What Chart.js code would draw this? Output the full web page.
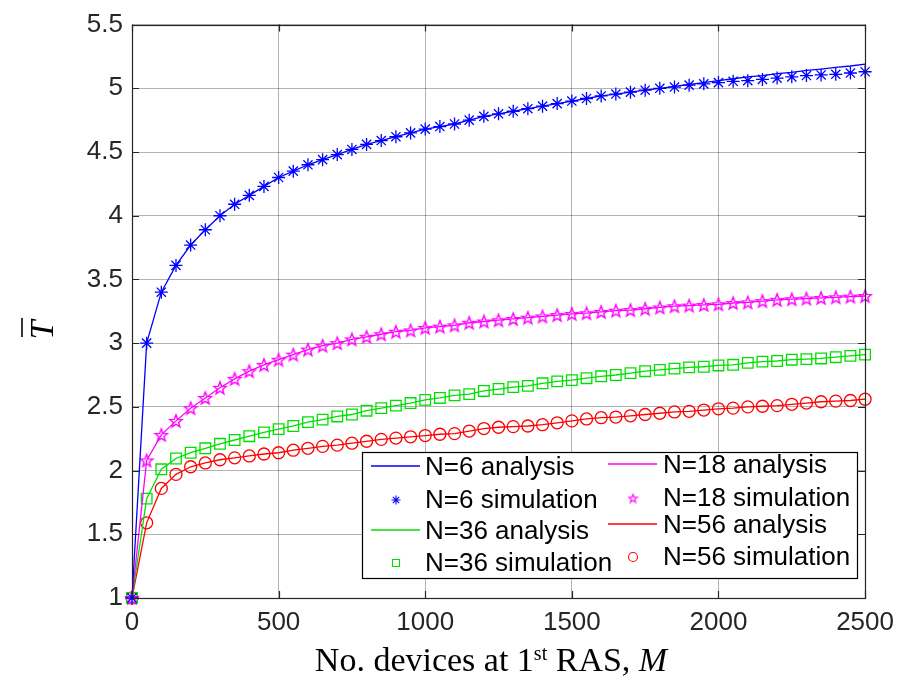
<!DOCTYPE html>
<html>
<head>
<meta charset="utf-8">
<script src="https://cdn.jsdelivr.net/npm/chart.js@4.4.1/dist/chart.umd.min.js"></script>
<style>
  html, body { margin: 0; padding: 0; background: #ffffff; }
  #wrap { width: 903px; height: 682px; }
</style>
</head>
<body>
<div id="wrap"><canvas id="c" width="903" height="682"></canvas></div>
<script>
const xValues = [0, 50, 100, 150, 200, 250, 300, 350, 400, 450, 500, 550, 600, 650, 700, 750, 800, 850, 900, 950,
  1000, 1050, 1100, 1150, 1200, 1250, 1300, 1350, 1400, 1450, 1500, 1550, 1600, 1650, 1700, 1750, 1800, 1850, 1900, 1950,
  2000, 2050, 2100, 2150, 2200, 2250, 2300, 2350, 2400, 2450, 2500];

const n6Simulation = [1.00, 3.00, 3.40, 3.61, 3.77, 3.89, 4.00, 4.09, 4.16, 4.23, 4.30, 4.35, 4.40, 4.44, 4.48, 4.52, 4.56, 4.59, 4.62, 4.65,
  4.68, 4.70, 4.72, 4.75, 4.78, 4.80, 4.82, 4.84, 4.86, 4.88, 4.90, 4.92, 4.94, 4.955, 4.97, 4.985, 5.00, 5.01, 5.025, 5.035,
  5.045, 5.055, 5.06, 5.07, 5.08, 5.09, 5.10, 5.105, 5.11, 5.12, 5.13];
const n6Analysis = [1.00, 3.00, 3.40, 3.61, 3.77, 3.89, 4.00, 4.09, 4.16, 4.23, 4.30, 4.35, 4.40, 4.44, 4.48, 4.52, 4.56, 4.59, 4.62, 4.65,
  4.68, 4.70, 4.72, 4.75, 4.78, 4.80, 4.82, 4.84, 4.86, 4.88, 4.90, 4.92, 4.94, 4.955, 4.97, 4.985, 5.00, 5.015, 5.03, 5.045,
  5.06, 5.075, 5.09, 5.10, 5.115, 5.125, 5.14, 5.15, 5.165, 5.175, 5.19];

const n18Simulation = [1.00, 2.08, 2.28, 2.39, 2.49, 2.57, 2.65, 2.72, 2.78, 2.83, 2.87, 2.91, 2.95, 2.98, 3.00, 3.03, 3.05, 3.07, 3.09, 3.10,
  3.12, 3.13, 3.14, 3.16, 3.17, 3.18, 3.19, 3.20, 3.21, 3.22, 3.23, 3.235, 3.245, 3.255, 3.26, 3.27, 3.28, 3.29, 3.295, 3.30,
  3.305, 3.315, 3.32, 3.33, 3.34, 3.345, 3.35, 3.355, 3.36, 3.365, 3.37];
const n18Analysis = [1.00, 2.08, 2.28, 2.39, 2.49, 2.57, 2.65, 2.72, 2.78, 2.83, 2.87, 2.91, 2.95, 2.98, 3.00, 3.03, 3.05, 3.07, 3.09, 3.10,
  3.12, 3.13, 3.14, 3.16, 3.17, 3.18, 3.19, 3.20, 3.21, 3.22, 3.23, 3.235, 3.245, 3.255, 3.26, 3.27, 3.28, 3.29, 3.295, 3.30,
  3.305, 3.315, 3.32, 3.33, 3.34, 3.345, 3.35, 3.355, 3.36, 3.365, 3.37];

const n36Simulation = [1.00, 1.78, 2.01, 2.095, 2.14, 2.175, 2.21, 2.24, 2.27, 2.30, 2.325, 2.35, 2.38, 2.40, 2.425, 2.44, 2.47, 2.49, 2.51, 2.53,
  2.555, 2.57, 2.59, 2.60, 2.625, 2.64, 2.655, 2.665, 2.685, 2.70, 2.71, 2.725, 2.74, 2.75, 2.765, 2.78, 2.79, 2.80, 2.81, 2.815,
  2.825, 2.83, 2.845, 2.855, 2.86, 2.87, 2.875, 2.88, 2.89, 2.90, 2.91];
const n36Analysis = [1.00, 1.78, 2.01, 2.095, 2.14, 2.175, 2.21, 2.24, 2.27, 2.30, 2.325, 2.35, 2.38, 2.40, 2.425, 2.44, 2.47, 2.49, 2.51, 2.53,
  2.555, 2.57, 2.59, 2.60, 2.625, 2.64, 2.655, 2.665, 2.685, 2.70, 2.71, 2.725, 2.74, 2.75, 2.765, 2.78, 2.79, 2.80, 2.81, 2.815,
  2.825, 2.83, 2.845, 2.855, 2.86, 2.87, 2.875, 2.88, 2.89, 2.90, 2.91];

const n56Simulation = [1.00, 1.59, 1.86, 1.97, 2.03, 2.06, 2.085, 2.10, 2.115, 2.13, 2.14, 2.16, 2.175, 2.19, 2.20, 2.215, 2.23, 2.245, 2.255, 2.265,
  2.275, 2.285, 2.29, 2.31, 2.33, 2.34, 2.345, 2.35, 2.36, 2.375, 2.39, 2.405, 2.415, 2.42, 2.43, 2.44, 2.45, 2.46, 2.465, 2.475,
  2.485, 2.49, 2.50, 2.505, 2.51, 2.52, 2.53, 2.54, 2.545, 2.55, 2.56];
const n56Analysis = [1.00, 1.59, 1.86, 1.97, 2.03, 2.06, 2.085, 2.10, 2.115, 2.13, 2.14, 2.16, 2.175, 2.19, 2.20, 2.215, 2.23, 2.245, 2.255, 2.265,
  2.275, 2.285, 2.29, 2.31, 2.33, 2.34, 2.345, 2.35, 2.36, 2.375, 2.39, 2.405, 2.415, 2.42, 2.43, 2.44, 2.45, 2.46, 2.465, 2.475,
  2.485, 2.49, 2.50, 2.505, 2.51, 2.52, 2.53, 2.54, 2.545, 2.55, 2.56];

const xTickValues = [0, 500, 1000, 1500, 2000, 2500];
const yTickLabels = ['1', '1.5', '2', '2.5', '3', '3.5', '4', '4.5', '5', '5.5'];

const seriesLabels = ['N=6 analysis', 'N=6 simulation', 'N=18 analysis', 'N=18 simulation',
                      'N=36 analysis', 'N=36 simulation', 'N=56 analysis', 'N=56 simulation'];
const xTitleParts = ['No. devices at 1', 'st', ' RAS, ', 'M'];
const yTitleText = 'T';

const BLUE = '#0000ff', MAG = '#ff00ff', GREEN = '#00e000', RED = '#ff0000';

function pentagram(size, color, lw) {
  const c = document.createElement('canvas');
  c.width = size; c.height = size;
  const g = c.getContext('2d');
  const cx = size / 2, cy = size / 2 + 0.6;
  const R = size / 2 - lw, r = R * 0.42;
  g.beginPath();
  for (let i = 0; i < 10; i++) {
    const rad = (i % 2 === 0) ? R : r;
    const a = -Math.PI / 2 + i * Math.PI / 5;
    const px = cx + rad * Math.cos(a), py = cy + rad * Math.sin(a);
    if (i === 0) g.moveTo(px, py); else g.lineTo(px, py);
  }
  g.closePath();
  g.strokeStyle = color; g.lineWidth = lw; g.stroke();
  return c;
}
const pentBig = pentagram(16, MAG, 1.4);
const pentSmall = pentagram(11, MAG, 1.1);

const pts = arr => xValues.map((x, i) => ({ x: x, y: arr[i] }));

function lineDs(label, arr, color) {
  return { label, data: pts(arr), borderColor: color, backgroundColor: color, borderWidth: 1.3,
           pointRadius: 0, showLine: true, tension: 0, clip: false };
}
function simDs(label, arr, color, style, radius) {
  return { label, data: pts(arr), borderColor: color, backgroundColor: 'rgba(0,0,0,0)', showLine: false,
           pointStyle: style, pointRadius: radius, pointBorderColor: color, pointBackgroundColor: 'rgba(0,0,0,0)',
           pointBorderWidth: 1.3, clip: false };
}

const datasets = [
  lineDs(seriesLabels[0], n6Analysis, BLUE),
  simDs(seriesLabels[1], n6Simulation, BLUE, 'star', 6.5),
  lineDs(seriesLabels[2], n18Analysis, MAG),
  simDs(seriesLabels[3], n18Simulation, MAG, pentBig, 7),
  lineDs(seriesLabels[4], n36Analysis, GREEN),
  simDs(seriesLabels[5], n36Simulation, GREEN, 'rect', 7.5),
  lineDs(seriesLabels[6], n56Analysis, RED),
  simDs(seriesLabels[7], n56Simulation, RED, 'circle', 6),
];

const LEG_FONT = '26px "Liberation Sans", Arial, sans-serif';

const decor = {
  id: 'decor',
  afterDraw(chart) {
    const ctx = chart.ctx, a = chart.chartArea;
    const xs = chart.scales.x, ys = chart.scales.y;
    ctx.save();
    // axes box
    ctx.strokeStyle = '#262626'; ctx.lineWidth = 1.2;
    ctx.strokeRect(Math.round(a.left) + 0.5, Math.round(a.top) + 0.5,
                   Math.round(a.right - a.left), Math.round(a.bottom - a.top));
    // inward ticks on all sides
    ctx.beginPath();
    const TL = 7;
    xTickValues.forEach(v => {
      const px = Math.round(xs.getPixelForValue(v)) + 0.5;
      ctx.moveTo(px, a.bottom); ctx.lineTo(px, a.bottom - TL);
      ctx.moveTo(px, a.top); ctx.lineTo(px, a.top + TL);
    });
    yTickLabels.forEach(t => {
      const py = Math.round(ys.getPixelForValue(parseFloat(t))) + 0.5;
      ctx.moveTo(a.left, py); ctx.lineTo(a.left + TL, py);
      ctx.moveTo(a.right, py); ctx.lineTo(a.right - TL, py);
    });
    ctx.stroke();

    // legend
    const L = { x: 362, y: 452, w: 495, h: 126 };
    ctx.fillStyle = '#ffffff';
    ctx.fillRect(L.x, L.y, L.w, L.h);
    ctx.strokeStyle = '#000000'; ctx.lineWidth = 1.2;
    ctx.strokeRect(L.x + 0.5, L.y + 0.5, L.w, L.h);
    const cols = [{ lx0: 371, lx1: 420, mx: 396, tx: 425, rows: [468, 501, 532, 564], ds: [0, 1, 4, 5] },
                  { lx0: 608, lx1: 657, mx: 633, tx: 663, rows: [466, 499, 526, 558], ds: [2, 3, 6, 7] }];
    ctx.textBaseline = 'middle'; ctx.textAlign = 'left';
    cols.forEach(col => {
      col.ds.forEach((di, k) => {
        const d = chart.data.datasets[di];
        const y = col.rows[k];
        if (d.showLine) {
          ctx.strokeStyle = d.borderColor; ctx.lineWidth = 1.3;
          ctx.beginPath(); ctx.moveTo(col.lx0, y - 2); ctx.lineTo(col.lx1, y - 2); ctx.stroke();
        } else {
          const st = d.pointStyle === pentBig ? pentSmall : d.pointStyle;
          const r = d.pointStyle === 'rect' ? 5 : 4.5;
          ctx.strokeStyle = d.pointBorderColor;
          ctx.fillStyle = 'rgba(0,0,0,0)';
          ctx.lineWidth = 1.1;
          Chart.helpers.drawPoint(ctx, { pointStyle: st, radius: r, borderWidth: 1.1, rotation: 0 }, col.mx, y - 1);
        }
        ctx.font = LEG_FONT;
        ctx.fillStyle = '#000000';
        ctx.fillText(d.label, col.tx, y);
      });
    });

    // x title with superscript and italic M
    const bigF = '34px "Liberation Serif", "Times New Roman", serif';
    const supF = '20px "Liberation Serif", "Times New Roman", serif';
    const itF = 'italic 34px "Liberation Serif", "Times New Roman", serif';
    const fonts = [bigF, supF, bigF, itF];
    const widths = xTitleParts.map((s, i) => { ctx.font = fonts[i]; return ctx.measureText(s).width; });
    const total = widths.reduce((p, q) => p + q, 0);
    let x = 491 - total / 2;
    ctx.fillStyle = '#000000'; ctx.textBaseline = 'alphabetic';
    xTitleParts.forEach((s, i) => {
      ctx.font = fonts[i];
      ctx.fillText(s, x, i === 1 ? 660 : 671);
      x += widths[i];
    });

    // y title: italic T with overbar, rotated
    ctx.translate(42, 330);
    ctx.rotate(-Math.PI / 2);
    ctx.font = itF; ctx.textAlign = 'center'; ctx.textBaseline = 'alphabetic';
    ctx.fillText(yTitleText, 0, 11);
    ctx.strokeStyle = '#000000'; ctx.lineWidth = 1.6;
    ctx.beginPath(); ctx.moveTo(-7, -20); ctx.lineTo(12, -20); ctx.stroke();
    ctx.restore();
  }
};

new Chart(document.getElementById('c').getContext('2d'), {
  type: 'scatter',
  data: { datasets },
  options: {
    responsive: false,
    devicePixelRatio: 1,
    animation: false,
    layout: { padding: { top: 20, right: 35, bottom: 0, left: 0 } },
    plugins: { legend: { display: false }, tooltip: { enabled: false } },
    scales: {
      x: {
        type: 'linear', min: 0, max: 2500,
        afterFit: s => { s.height = 84; },
        afterBuildTicks: s => { s.ticks = xTickValues.map(v => ({ value: v })); },
        ticks: { font: { family: '"Liberation Sans", Arial, sans-serif', size: 26 }, color: '#262626',
                 padding: 9, maxRotation: 0, callback: v => String(v) },
        grid: { color: 'rgba(0,0,0,0.3)', lineWidth: 1, drawTicks: false },
        border: { display: false }
      },
      y: {
        type: 'linear', min: 1, max: 5.5,
        afterFit: s => { s.width = 132; },
        afterBuildTicks: s => { s.ticks = yTickLabels.map(t => ({ value: parseFloat(t) })); },
        ticks: { font: { family: '"Liberation Sans", Arial, sans-serif', size: 26 }, color: '#262626',
                 padding: 9, callback: (v, i) => yTickLabels[i] },
        grid: { color: 'rgba(0,0,0,0.3)', lineWidth: 1, drawTicks: false },
        border: { display: false }
      }
    }
  },
  plugins: [decor]
});
</script>
</body>
</html>
